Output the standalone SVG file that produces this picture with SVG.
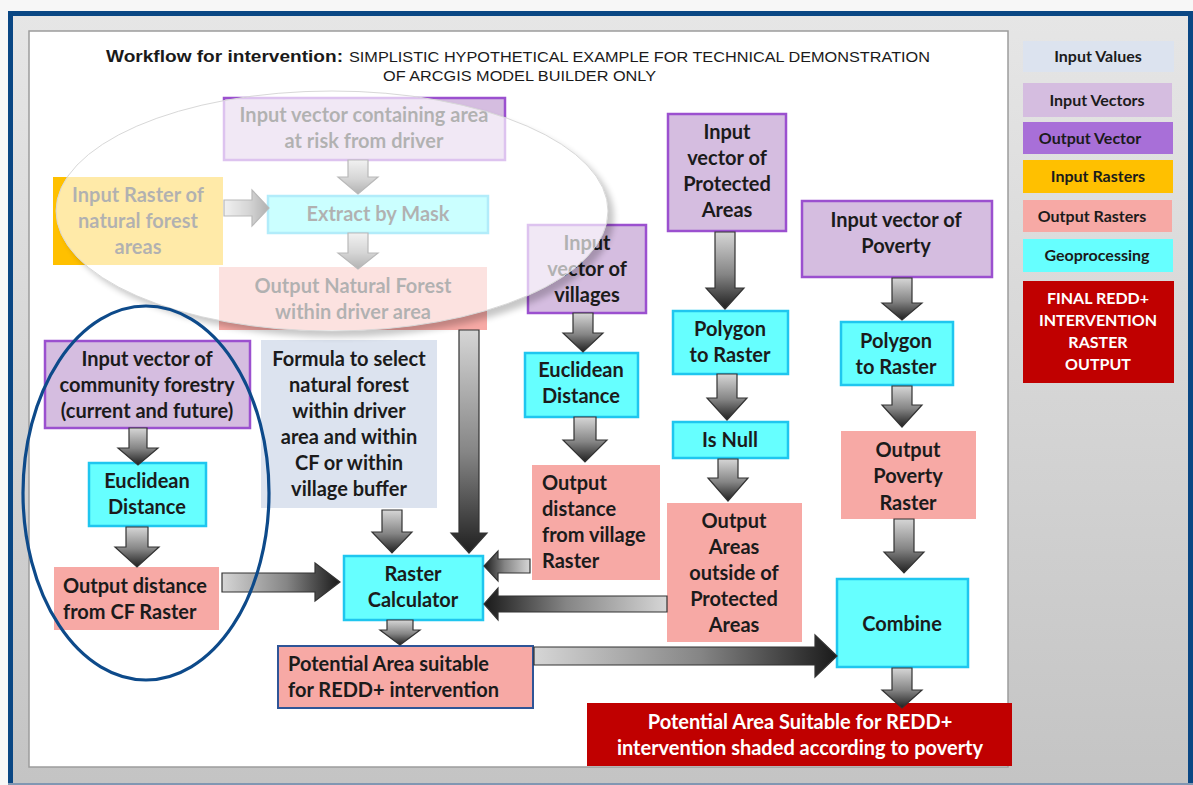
<svg xmlns="http://www.w3.org/2000/svg" width="1193" height="785" viewBox="0 0 1193 785">
<defs>
<style>
.t{font-family:Lato,"Open Sans","Liberation Sans",sans-serif;font-weight:700;font-size:20px;fill:#1b1b1b;text-anchor:middle}
.tl{text-anchor:start}
.w{fill:#ffffff}
.lg{font-size:16px}
.vin{fill:#d5bde0;stroke:#9b50cf;stroke-width:2.5}
.rin{fill:#ffc000}
.geo{fill:#66ffff;stroke:#1fc6ef;stroke-width:2.5}
.rout{fill:#f7a9a5}
.val{fill:#dce3ef}
.fin{fill:#c00000}
.ov{fill:#a86fd8}
.arr{stroke:#333333;stroke-width:1.2;stroke-linejoin:miter}
</style>
<linearGradient id="bg" x1="0" y1="0" x2="0" y2="1"><stop offset="0" stop-color="#e6e6e6"/><stop offset="1" stop-color="#c3c3c3"/></linearGradient>
<linearGradient id="gD" x1="0" y1="0" x2="0" y2="1"><stop offset="0" stop-color="#d6d6d6"/><stop offset="0.55" stop-color="#858585"/><stop offset="1" stop-color="#1f1f1f"/></linearGradient>
<linearGradient id="gR" x1="0" y1="0" x2="1" y2="0"><stop offset="0" stop-color="#d6d6d6"/><stop offset="0.55" stop-color="#858585"/><stop offset="1" stop-color="#1a1a1a"/></linearGradient>
<linearGradient id="gL" x1="1" y1="0" x2="0" y2="0"><stop offset="0" stop-color="#d6d6d6"/><stop offset="0.55" stop-color="#858585"/><stop offset="1" stop-color="#1a1a1a"/></linearGradient>
<filter id="blur" x="-10%" y="-20%" width="120%" height="140%"><feGaussianBlur stdDeviation="3"/></filter>
<mask id="outside"><rect x="0" y="0" width="1193" height="785" fill="#fff"/><ellipse cx="332" cy="211" rx="276" ry="120" fill="#000"/></mask>
</defs>

<rect x="0" y="0" width="1193" height="785" fill="#f7f7f7"/>
<rect x="10.5" y="13.5" width="1180" height="790" fill="url(#bg)" stroke="#0a4784" stroke-width="5"/>
<line x1="8" y1="784" x2="1193" y2="784" stroke="#8197b2" stroke-width="2"/>
<rect x="29" y="31" width="979" height="736" fill="#ffffff" stroke="#9c9c9c" stroke-width="1.5"/>

<g id="title">
<text x="106" y="62" font-family="Liberation Sans,Arial,sans-serif" font-weight="700" font-size="17" fill="#1a1a1a" textLength="237" lengthAdjust="spacingAndGlyphs">Workflow for intervention:</text>
<text x="349" y="62" font-family="Liberation Sans,Arial,sans-serif" font-size="15" fill="#1a1a1a" textLength="581" lengthAdjust="spacingAndGlyphs">SIMPLISTIC HYPOTHETICAL EXAMPLE FOR TECHNICAL DEMONSTRATION</text>
<text x="383" y="81" font-family="Liberation Sans,Arial,sans-serif" font-size="15" fill="#1a1a1a" textLength="273" lengthAdjust="spacingAndGlyphs">OF ARCGIS MODEL BUILDER ONLY</text>
</g>

<g id="n_iv_risk"><rect class="vin" x="224" y="98" width="281" height="62"/><text class="t" x="364" y="122">Input vector containing area</text><text class="t" x="364" y="148">at risk from driver</text></g>
<g id="n_ir_forest"><rect class="rin" x="53" y="177" width="170" height="88"/><text class="t" x="138" y="202">Input Raster of</text><text class="t" x="138" y="228">natural forest</text><text class="t" x="138" y="254">areas</text></g>
<g id="n_extract"><rect class="geo" x="268" y="196" width="220" height="37"/><text class="t" x="378" y="221">Extract by Mask</text></g>
<g id="n_out_nf"><rect class="rout" x="219" y="267" width="268" height="63"/><text class="t" x="353" y="293">Output Natural Forest</text><text class="t" x="353" y="319">within driver area</text></g>
<g id="n_iv_cf"><rect class="vin" x="45" y="341" width="205" height="87"/><text class="t" x="147" y="366">Input vector of</text><text class="t" x="147" y="392">community forestry</text><text class="t" x="147" y="418">(current and future)</text></g>
<g id="n_eu_cf"><rect class="geo" x="89" y="463" width="117" height="63"/><text class="t" x="147" y="488">Euclidean</text><text class="t" x="147" y="514">Distance</text></g>
<g id="n_out_cf"><rect class="rout" x="54" y="567" width="165" height="63"/><text class="t tl" x="63" y="593">Output distance</text><text class="t tl" x="63" y="619">from CF Raster</text></g>
<g id="n_formula"><rect class="val" x="261" y="340" width="176" height="168"/><text class="t" x="349" y="366">Formula to select</text><text class="t" x="349" y="392">natural forest</text><text class="t" x="349" y="418">within driver</text><text class="t" x="349" y="444">area and within</text><text class="t" x="349" y="470">CF or within</text><text class="t" x="349" y="496">village buffer</text></g>
<g id="n_rc"><rect class="geo" x="344" y="556" width="139" height="64"/><text class="t" x="413" y="581">Raster</text><text class="t" x="413" y="607">Calculator</text></g>
<g id="n_pot"><rect class="rout" x="278" y="646" width="255" height="62" stroke="#2f5597" stroke-width="2"/><text class="t tl" x="288" y="671">Potential Area suitable</text><text class="t tl" x="288" y="697">for REDD+ intervention</text></g>
<g id="n_iv_vil"><rect class="vin" x="528" y="225" width="118" height="88"/><text class="t" x="587" y="250">Input</text><text class="t" x="587" y="276">vector of</text><text class="t" x="587" y="302">villages</text></g>
<g id="n_eu_vil"><rect class="geo" x="525" y="353" width="113" height="64"/><text class="t" x="581" y="377">Euclidean</text><text class="t" x="581" y="403">Distance</text></g>
<g id="n_out_vil"><rect class="rout" x="532" y="465" width="128" height="115"/><text class="t tl" x="542" y="490">Output</text><text class="t tl" x="542" y="516">distance</text><text class="t tl" x="542" y="542">from village</text><text class="t tl" x="542" y="568">Raster</text></g>
<g id="n_iv_pa"><rect class="vin" x="668" y="114" width="118" height="117"/><text class="t" x="727" y="139">Input</text><text class="t" x="727" y="165">vector of</text><text class="t" x="727" y="191">Protected</text><text class="t" x="727" y="217">Areas</text></g>
<g id="n_p2r_pa"><rect class="geo" x="673" y="311" width="115" height="63"/><text class="t" x="730" y="336">Polygon</text><text class="t" x="730" y="362">to Raster</text></g>
<g id="n_isnull"><rect class="geo" x="673" y="422" width="115" height="36"/><text class="t" x="730" y="447">Is Null</text></g>
<g id="n_out_pa"><rect class="rout" x="667" y="503" width="135" height="139"/><text class="t" x="734" y="528">Output</text><text class="t" x="734" y="554">Areas</text><text class="t" x="734" y="580">outside of</text><text class="t" x="734" y="606">Protected</text><text class="t" x="734" y="632">Areas</text></g>
<g id="n_iv_pov"><rect class="vin" x="802" y="201" width="190" height="76"/><text class="t" x="896" y="227">Input vector of</text><text class="t" x="896" y="253">Poverty</text></g>
<g id="n_p2r_pov"><rect class="geo" x="841" y="322" width="112" height="63"/><text class="t" x="896" y="348">Polygon</text><text class="t" x="896" y="374">to Raster</text></g>
<g id="n_out_pov"><rect class="rout" x="841" y="431" width="135" height="88"/><text class="t" x="908" y="457">Output</text><text class="t" x="908" y="483">Poverty</text><text class="t" x="908" y="510">Raster</text></g>
<g id="n_combine"><rect class="geo" x="837" y="579" width="131" height="88"/><text class="t" x="902" y="631">Combine</text></g>
<g id="n_final"><rect class="fin" x="587" y="703" width="425" height="63"/><text class="t w" x="800" y="729">Potential Area Suitable for REDD+</text><text class="t w" x="800" y="755">intervention shaded according to poverty</text></g>

<g id="legend">
<g id="lg_values"><rect class="val" x="1023" y="41" width="151" height="31"/><text class="t lg" x="1098" y="62">Input Values</text></g>
<g id="lg_vectors"><rect fill="#d5bde0" x="1023" y="83" width="149" height="34"/><text class="t lg" x="1097" y="106">Input Vectors</text></g>
<g id="lg_outvector"><rect class="ov" x="1023" y="122" width="150" height="32"/><text class="t lg" x="1090" y="144">Output Vector</text></g>
<g id="lg_rasters"><rect class="rin" x="1023" y="160" width="150" height="33"/><text class="t lg" x="1098" y="182">Input Rasters</text></g>
<g id="lg_outrasters"><rect class="rout" x="1023" y="200" width="149" height="32"/><text class="t lg" x="1092" y="222">Output Rasters</text></g>
<g id="lg_geo"><rect fill="#66ffff" x="1023" y="239" width="150" height="33"/><text class="t lg" x="1097" y="261">Geoprocessing</text></g>
<g id="lg_final"><rect class="fin" x="1023" y="281" width="151" height="102"/><text class="t lg w" x="1098" y="304">FINAL REDD+</text><text class="t lg w" x="1098" y="326">INTERVENTION</text><text class="t lg w" x="1098" y="348">RASTER</text><text class="t lg w" x="1098" y="370">OUTPUT</text></g>
</g>

<g id="connectors">
<path class="arr" fill="url(#gD)" d="M348,160H368V177H378L358,194L338,177H348Z"/>
<path class="arr" fill="url(#gR)" d="M224,200H252V190L269,208L252,226V216H224Z"/>
<path class="arr" fill="url(#gD)" d="M348,233H368V253H378L358,269L338,253H348Z"/>
<path class="arr" fill="url(#gD)" d="M129,428H147V448H158L138,465L118,448H129Z"/>
<path class="arr" fill="url(#gD)" d="M126,527H148V547H159L137,567L115,547H126Z"/>
<path class="arr" fill="url(#gR)" d="M222,573H315V563L340,582L315,601V592H222Z"/>
<path class="arr" fill="url(#gD)" d="M382,510H402V532H412L392,553L372,532H382Z"/>
<path class="arr" fill="url(#gD)" d="M459,330H479V533H487L469,553L451,533H459Z"/>
<path class="arr" fill="url(#gL)" d="M530,559H498V551L484,566L498,581V573H530Z"/>
<path class="arr" fill="url(#gL)" d="M667,596H498V588L484,604L498,620V612H667Z"/>
<path class="arr" fill="url(#gD)" d="M387,620H413V630H420L400,645L380,630H387Z"/>
<path class="arr" fill="url(#gR)" d="M534,647H815V635L837,656L815,677V665H534Z"/>
<path class="arr" fill="url(#gD)" d="M573,313H593V333H603L583,352L563,333H573Z"/>
<path class="arr" fill="url(#gD)" d="M574,417H596V440H607L585,462L563,440H574Z"/>
<path class="arr" fill="url(#gD)" d="M715,232H735V288H744L725,309L706,288H715Z"/>
<path class="arr" fill="url(#gD)" d="M717,374H737V398H747L727,420L707,398H717Z"/>
<path class="arr" fill="url(#gD)" d="M718,459H738V478H748L728,501L708,478H718Z"/>
<path class="arr" fill="url(#gD)" d="M892,278H912V303H922L902,320L882,303H892Z"/>
<path class="arr" fill="url(#gD)" d="M892,386H912V405H922L902,427L882,405H892Z"/>
<path class="arr" fill="url(#gD)" d="M894,519H914V552H924L904,573L884,552H894Z"/>
<path class="arr" fill="url(#gD)" d="M892,668H912V690H922L902,708L882,690H892Z"/>
</g>

<g id="highlight">
<ellipse cx="338" cy="217" rx="276" ry="120" fill="#000" opacity="0.22" filter="url(#blur)" mask="url(#outside)"/>
<ellipse cx="332" cy="211" rx="276" ry="120" fill="#ffffff" fill-opacity="0.66" stroke="#d8d8d8" stroke-width="1"/>
<ellipse cx="146" cy="493" rx="123" ry="187" fill="none" stroke="#0d4a8a" stroke-width="3.2"/>
</g>
</svg>
